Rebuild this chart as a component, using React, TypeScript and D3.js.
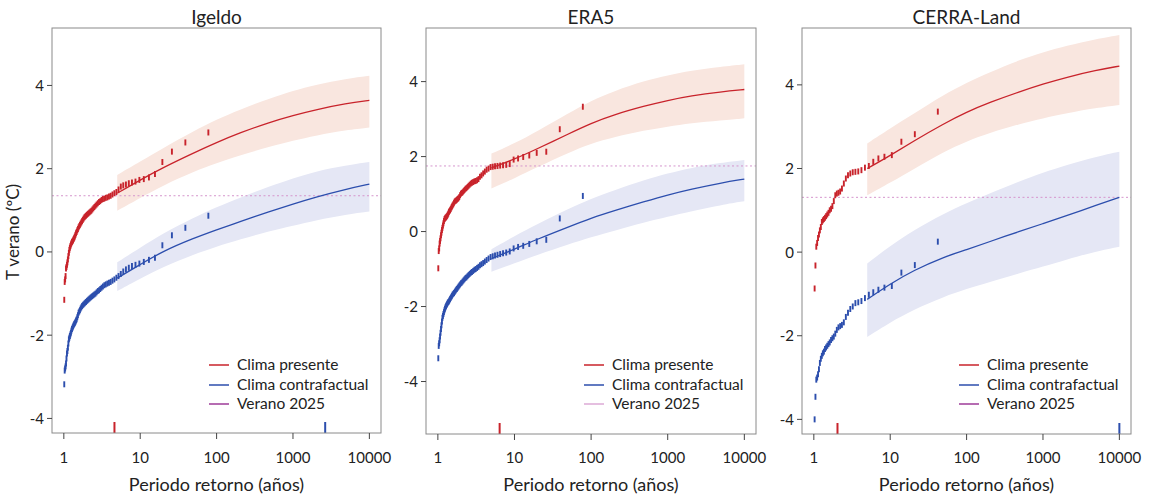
import React from 'react';
import * as d3 from 'd3';

// ---------- DATA ----------
const panelTitles = ['Igeldo', 'ERA5', 'CERRA-Land'];
const legendLabels = ['Clima presente', 'Clima contrafactual', 'Verano 2025'];
const xTicks = [1, 10, 100, 1000, 10000];
const yTicks = [-4, -2, 0, 2, 4];

// empirical return periods (years), 77-year and 41-year samples
const periods77 = [78, 39, 26, 19.5, 15.6, 13, 11.143, 9.75, 8.667, 7.8,
  7.091, 6.5, 6, 5.571, 5.2, 4.875, 4.588, 4.333, 4.105, 3.9,
  3.714, 3.545, 3.391, 3.25, 3.12, 3, 2.889, 2.786, 2.69, 2.6,
  2.516, 2.438, 2.364, 2.294, 2.229, 2.167, 2.108, 2.053, 2, 1.95,
  1.902, 1.857, 1.814, 1.773, 1.733, 1.696, 1.66, 1.625, 1.592, 1.56,
  1.529, 1.5, 1.472, 1.444, 1.418, 1.393, 1.368, 1.345, 1.322, 1.3,
  1.279, 1.258, 1.238, 1.219, 1.2, 1.182, 1.164, 1.147, 1.13, 1.114,
  1.099, 1.083, 1.068, 1.054, 1.04, 1.026, 1.013];
const periods41 = [42, 21, 14, 10.5, 8.4, 7, 6, 5.25, 4.667, 4.2,
  3.818, 3.5, 3.231, 3, 2.8, 2.625, 2.471, 2.333, 2.211, 2.1,
  2, 1.909, 1.826, 1.75, 1.68, 1.615, 1.556, 1.5, 1.448, 1.4,
  1.355, 1.313, 1.273, 1.235, 1.2, 1.167, 1.135, 1.105, 1.077, 1.05, 1.024];

const igeldoPresent = [2.87, 2.63, 2.41, 2.16, 1.87, 1.79, 1.75, 1.73, 1.69, 1.67,
  1.65, 1.62, 1.60, 1.57, 1.50, 1.44, 1.41, 1.38, 1.35, 1.33,
  1.31, 1.30, 1.28, 1.27, 1.25, 1.22, 1.20, 1.17, 1.14, 1.11,
  1.08, 1.05, 1.02, 0.99, 0.97, 0.95, 0.93, 0.91, 0.89, 0.87,
  0.85, 0.83, 0.80, 0.77, 0.74, 0.71, 0.68, 0.65, 0.62, 0.59,
  0.55, 0.52, 0.48, 0.45, 0.41, 0.37, 0.34, 0.31, 0.28, 0.26,
  0.24, 0.21, 0.18, 0.14, 0.10, 0.05, -0.02, -0.10, -0.18, -0.25,
  -0.31, -0.36, -0.40, -0.58, -0.66, -0.72, -1.15];
const igeldoCounter = [0.87, 0.58, 0.40, 0.16, -0.14, -0.19, -0.24, -0.28, -0.31, -0.34,
  -0.38, -0.42, -0.47, -0.53, -0.58, -0.62, -0.66, -0.69, -0.72, -0.74,
  -0.76, -0.78, -0.80, -0.83, -0.86, -0.89, -0.92, -0.94, -0.97, -1.00,
  -1.02, -1.04, -1.06, -1.08, -1.10, -1.12, -1.14, -1.16, -1.18, -1.20,
  -1.22, -1.24, -1.26, -1.28, -1.30, -1.33, -1.36, -1.40, -1.43, -1.46,
  -1.52, -1.57, -1.62, -1.65, -1.68, -1.71, -1.73, -1.76, -1.79, -1.82,
  -1.85, -1.89, -1.94, -1.98, -2.02, -2.06, -2.10, -2.20, -2.30, -2.38,
  -2.44, -2.56, -2.68, -2.75, -2.80, -2.85, -3.18];
const era5Present = [3.33, 2.73, 2.13, 2.10, 2.03, 1.99, 1.95, 1.92, 1.80, 1.78,
  1.77, 1.76, 1.75, 1.74, 1.73, 1.72, 1.68, 1.65, 1.60, 1.55,
  1.50, 1.46, 1.40, 1.37, 1.35, 1.34, 1.32, 1.30, 1.28, 1.25,
  1.22, 1.19, 1.16, 1.14, 1.11, 1.08, 1.05, 1.03, 1.01, 0.97,
  0.92, 0.89, 0.87, 0.85, 0.83, 0.82, 0.80, 0.77, 0.73, 0.70,
  0.67, 0.64, 0.60, 0.57, 0.55, 0.52, 0.48, 0.45, 0.42, 0.40,
  0.38, 0.37, 0.35, 0.33, 0.28, 0.22, 0.16, 0.10, 0.04, -0.03,
  -0.10, -0.18, -0.25, -0.32, -0.45, -0.52, -0.98];
const era5Counter = [0.95, 0.35, -0.22, -0.26, -0.33, -0.38, -0.41, -0.45, -0.53, -0.56,
  -0.58, -0.60, -0.62, -0.64, -0.66, -0.68, -0.72, -0.76, -0.80, -0.84,
  -0.87, -0.90, -0.94, -0.97, -1.00, -1.02, -1.05, -1.08, -1.10, -1.13,
  -1.16, -1.19, -1.22, -1.24, -1.27, -1.30, -1.33, -1.36, -1.38, -1.41,
  -1.44, -1.47, -1.50, -1.53, -1.55, -1.58, -1.61, -1.64, -1.66, -1.68,
  -1.71, -1.74, -1.77, -1.80, -1.83, -1.86, -1.88, -1.90, -1.93, -1.96,
  -1.99, -2.02, -2.06, -2.10, -2.15, -2.20, -2.25, -2.30, -2.40, -2.50,
  -2.60, -2.70, -2.80, -2.90, -2.98, -3.05, -3.38];
const cerraPresent = [3.36, 2.82, 2.64, 2.32, 2.28, 2.24, 2.16, 2.06, 2.02, 1.96,
  1.93, 1.92, 1.91, 1.88, 1.84, 1.76, 1.64, 1.52, 1.45, 1.42,
  1.40, 1.36, 1.22, 1.10, 1.04, 1.00, 0.94, 0.90, 0.86, 0.82,
  0.79, 0.76, 0.72, 0.60, 0.52, 0.42, 0.34, 0.22, 0.13, -0.32, -0.87];
const cerraCounter = [0.25, -0.31, -0.49, -0.81, -0.85, -0.90, -0.96, -1.02, -1.10, -1.17,
  -1.20, -1.22, -1.30, -1.36, -1.45, -1.55, -1.68, -1.74, -1.77, -1.80,
  -1.86, -1.95, -2.02, -2.06, -2.10, -2.16, -2.20, -2.24, -2.28, -2.32,
  -2.38, -2.42, -2.48, -2.55, -2.65, -2.80, -2.92, -3.00, -3.05, -3.46, -4.00];

// fitted return-level curves and confidence bands
const fitPeriods = [5, 10, 20, 50, 100, 200, 500, 1000, 2000, 5000, 10000];
const igeldoPresentFit = [1.41, 1.73, 2.03, 2.38, 2.63, 2.86, 3.12, 3.28, 3.42, 3.57, 3.64];
const igeldoPresentLow = [0.99, 1.30, 1.60, 1.93, 2.13, 2.32, 2.53, 2.67, 2.80, 2.93, 2.99];
const igeldoPresentHigh = [1.85, 2.17, 2.50, 2.90, 3.18, 3.42, 3.69, 3.87, 4.02, 4.16, 4.23];
const igeldoCounterFit = [-0.63, -0.30, 0.02, 0.33, 0.53, 0.73, 0.97, 1.15, 1.32, 1.51, 1.63];
const igeldoCounterLow = [-0.94, -0.64, -0.36, -0.06, 0.13, 0.30, 0.50, 0.63, 0.76, 0.90, 0.97];
const igeldoCounterHigh = [-0.25, 0.10, 0.45, 0.82, 1.08, 1.30, 1.58, 1.77, 1.94, 2.08, 2.16];
const era5PresentFit = [1.70, 1.93, 2.21, 2.60, 2.89, 3.12, 3.35, 3.50, 3.62, 3.73, 3.79];
const era5PresentLow = [1.15, 1.42, 1.72, 2.10, 2.35, 2.52, 2.70, 2.80, 2.89, 2.97, 3.02];
const era5PresentHigh = [2.08, 2.35, 2.68, 3.15, 3.49, 3.75, 4.02, 4.17, 4.29, 4.40, 4.46];
const era5CounterFit = [-0.72, -0.47, -0.20, 0.12, 0.36, 0.56, 0.80, 0.98, 1.13, 1.30, 1.40];
const era5CounterLow = [-1.07, -0.85, -0.62, -0.35, -0.15, 0.02, 0.25, 0.40, 0.54, 0.71, 0.81];
const era5CounterHigh = [-0.47, -0.12, 0.20, 0.60, 0.88, 1.10, 1.38, 1.55, 1.70, 1.84, 1.91];
const cerraPresentFit = [2.00, 2.31, 2.65, 3.07, 3.35, 3.58, 3.84, 4.02, 4.18, 4.35, 4.45];
const cerraPresentLow = [1.36, 1.66, 1.98, 2.40, 2.65, 2.85, 3.07, 3.20, 3.32, 3.45, 3.52];
const cerraPresentHigh = [2.60, 2.96, 3.30, 3.76, 4.05, 4.30, 4.60, 4.78, 4.93, 5.10, 5.19];
const cerraCounterFit = [-1.13, -0.76, -0.44, -0.12, 0.06, 0.25, 0.50, 0.68, 0.87, 1.12, 1.31];
const cerraCounterLow = [-2.03, -1.68, -1.38, -1.07, -0.88, -0.72, -0.50, -0.35, -0.18, 0.02, 0.13];
const cerraCounterHigh = [-0.27, 0.15, 0.52, 0.92, 1.17, 1.40, 1.70, 1.90, 2.08, 2.28, 2.40];

// summer 2025 anomaly and its return period in each climate
const verano2025 = [1.35, 1.75, 1.31];
const rpPresent2025 = [4.6, 6.4, 2.04];
const rpCounter2025: (number | null)[] = [2640, null, 10000];

// ---------- STYLE / LAYOUT ----------
const RED = '#c8232b';
const BLUE = '#2c4ead';
const RED_BAND = '#f9e6df';
const BLUE_BAND = '#e5e7f5';
const DOT = '#d595cd';
const FONT = 'Lato, "Open Sans", sans-serif';

const layout = [
  { left: 52, right: 381, top: 28, bottom: 433, yDom: [-4.35, 5.38] },
  { left: 426, right: 756, top: 28, bottom: 434, yDom: [-5.4, 5.43] },
  { left: 802, right: 1131, top: 28, bottom: 434, yDom: [-4.35, 5.36] },
];
const legendVeranoColor = ['#9e3b98', '#dcaad6', '#9e3b98'];

const series = [
  { periods: periods77, present: igeldoPresent, counter: igeldoCounter,
    pf: igeldoPresentFit, pl: igeldoPresentLow, ph: igeldoPresentHigh,
    cf: igeldoCounterFit, cl: igeldoCounterLow, ch: igeldoCounterHigh },
  { periods: periods77, present: era5Present, counter: era5Counter,
    pf: era5PresentFit, pl: era5PresentLow, ph: era5PresentHigh,
    cf: era5CounterFit, cl: era5CounterLow, ch: era5CounterHigh },
  { periods: periods41, present: cerraPresent, counter: cerraCounter,
    pf: cerraPresentFit, pl: cerraPresentLow, ph: cerraPresentHigh,
    cf: cerraCounterFit, cl: cerraCounterLow, ch: cerraCounterHigh },
];

function Panel({ i }: { i: number }) {
  const L = layout[i];
  const S = series[i];
  const xs = d3.scaleLog().domain([0.7, 14200]).range([L.left, L.right]);
  const ys = d3.scaleLinear().domain(L.yDom).range([L.bottom, L.top]);
  const line = d3.line<[number, number]>().x(d => xs(d[0])).y(d => ys(d[1])).curve(d3.curveBasis);
  const area = d3.area<[number, number, number]>()
    .x(d => xs(d[0])).y0(d => ys(d[1])).y1(d => ys(d[2])).curve(d3.curveBasis);
  const band = (lo: number[], hi: number[]) => fitPeriods.map((p, k) => [p, lo[k], hi[k]] as [number, number, number]);
  const fit = (v: number[]) => fitPeriods.map((p, k) => [p, v[k]] as [number, number]);
  const cx = (L.left + L.right) / 2;
  const legX = L.right - 172;
  const legY = [365, 385, 404];
  const legColors = [RED, BLUE, legendVeranoColor[i]];

  return (
    <g>
      <text x={cx} y={24} textAnchor="middle" fontSize={19} fill="#222">{panelTitles[i]}</text>
      <path d={area(band(S.pl, S.ph)) || ''} fill={RED_BAND} />
      <path d={area(band(S.cl, S.ch)) || ''} fill={BLUE_BAND} />
      <line x1={L.left} x2={L.right} y1={ys(verano2025[i])} y2={ys(verano2025[i])}
        stroke={DOT} strokeWidth={1} strokeDasharray="2,2.5" />
      <path d={line(fit(S.pf)) || ''} fill="none" stroke={RED} strokeWidth={1.3} />
      <path d={line(fit(S.cf)) || ''} fill="none" stroke={BLUE} strokeWidth={1.3} />
      {S.periods.map((p, k) => (
        <line key={'r' + k} x1={xs(p)} x2={xs(p)} y1={ys(S.present[k]) - 3} y2={ys(S.present[k]) + 3}
          stroke={RED} strokeWidth={1.9} />
      ))}
      {S.periods.map((p, k) => (
        <line key={'b' + k} x1={xs(p)} x2={xs(p)} y1={ys(S.counter[k]) - 3} y2={ys(S.counter[k]) + 3}
          stroke={BLUE} strokeWidth={1.9} />
      ))}
      <line x1={xs(rpPresent2025[i])} x2={xs(rpPresent2025[i])} y1={L.bottom - 11} y2={L.bottom}
        stroke={RED} strokeWidth={2} />
      {rpCounter2025[i] !== null && (
        <line x1={xs(rpCounter2025[i] as number)} x2={xs(rpCounter2025[i] as number)} y1={L.bottom - 11} y2={L.bottom}
          stroke={BLUE} strokeWidth={2} />
      )}
      <rect x={L.left} y={L.top} width={L.right - L.left} height={L.bottom - L.top}
        fill="none" stroke="#8a8a8a" strokeWidth={1} />
      {yTicks.map(t => (
        <g key={'y' + t}>
          <line x1={L.left - 5} x2={L.left} y1={ys(t)} y2={ys(t)} stroke="#444" strokeWidth={1} />
          <text x={L.left - 8} y={ys(t)} dy="0.36em" textAnchor="end" fontSize={15} fill="#222">{t}</text>
        </g>
      ))}
      {xTicks.map(t => (
        <g key={'x' + t}>
          <line x1={xs(t)} x2={xs(t)} y1={L.bottom} y2={L.bottom + 6} stroke="#444" strokeWidth={1} />
          <text x={xs(t)} y={463} textAnchor="middle" fontSize={15} fill="#222">{t}</text>
        </g>
      ))}
      <text x={cx} y={491} textAnchor="middle" fontSize={18} fill="#222">Periodo retorno (años)</text>
      {legendLabels.map((lab, k) => (
        <g key={lab}>
          <line x1={legX} x2={legX + 20} y1={legY[k]} y2={legY[k]} stroke={legColors[k]} strokeWidth={1.5} />
          <text x={legX + 28} y={legY[k]} dy="0.35em" fontSize={15.5} fill="#222">{lab}</text>
        </g>
      ))}
    </g>
  );
}

export default function App() {
  return (
    <svg width={1150} height={500} style={{ position: 'absolute', left: 0, top: 0, background: '#fff' }}
      fontFamily={FONT}>
      <rect x={0} y={0} width={1150} height={500} fill="#fff" />
      {[0, 1, 2].map(i => <Panel key={i} i={i} />)}
      <text transform="translate(19,232) rotate(-90)" textAnchor="middle" fontSize={17} fill="#222">T verano (ºC)</text>
    </svg>
  );
}
